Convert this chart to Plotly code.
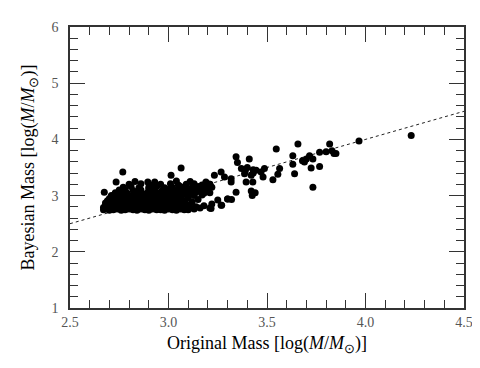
import plotly.graph_objects as go

# dense cluster (original mass, bayesian mass), read row by row
blob_x = [2.67, 2.69, 2.70, 2.72, 2.74, 2.76, 2.78, 2.80, 2.82, 2.84, 2.86, 2.88, 2.90, 2.92, 2.94, 2.96, 2.98, 3.00, 3.02, 3.04, 3.06, 3.08, 3.10, 3.13,
          2.67, 2.69, 2.71, 2.73, 2.75, 2.77, 2.79, 2.81, 2.83, 2.85, 2.87, 2.89, 2.91, 2.93, 2.95, 2.97, 2.99, 3.01, 3.03, 3.05, 3.08, 3.11, 3.16,
          2.68, 2.70, 2.72, 2.74, 2.76, 2.78, 2.80, 2.82, 2.84, 2.86, 2.88, 2.90, 2.92, 2.94, 2.96, 2.98, 3.00, 3.02, 3.04, 3.07, 3.10, 3.14,
          2.68, 2.71, 2.73, 2.75, 2.77, 2.79, 2.81, 2.83, 2.85, 2.87, 2.89, 2.91, 2.93, 2.95, 2.97, 2.99, 3.01, 3.03, 3.06, 3.09,
          2.69, 2.72, 2.74, 2.76, 2.78, 2.80, 2.82, 2.84, 2.86, 2.88, 2.90, 2.92, 2.94, 2.96, 2.98, 3.00, 3.02, 3.05, 3.08, 3.12,
          2.70, 2.73, 2.75, 2.78, 2.80, 2.82, 2.84, 2.87, 2.89, 2.91, 2.93, 2.96, 2.98, 3.01, 3.03, 3.06, 3.10, 3.15,
          2.71, 2.74, 2.77, 2.79, 2.82, 2.85, 2.88, 2.90, 2.93, 2.95, 2.98, 3.01, 3.04, 3.07, 3.10, 3.13, 3.17,
          2.73, 2.76, 2.79, 2.83, 2.86, 2.89, 2.92, 2.96, 2.99, 3.02, 3.05, 3.08, 3.11, 3.14, 3.18, 3.21,
          2.75, 2.78, 2.82, 2.86, 2.90, 2.93, 2.97, 3.00, 3.04, 3.07, 3.10, 3.13, 3.16, 3.20,
          2.77, 2.81, 2.85, 2.90, 2.94, 2.98, 3.02, 3.06, 3.09, 3.12, 3.15, 3.19, 3.22,
          2.80, 2.86, 2.92, 2.96, 3.01, 3.05, 3.09, 3.13, 3.17, 3.21,
          2.83, 2.93, 3.04, 3.11, 3.19]
blob_y = [2.75, 2.76, 2.74, 2.75, 2.76, 2.74, 2.75, 2.76, 2.75, 2.74, 2.76, 2.75, 2.74, 2.76, 2.75, 2.75, 2.74, 2.76, 2.75, 2.74, 2.76, 2.75, 2.75, 2.76,
          2.79, 2.80, 2.78, 2.79, 2.80, 2.79, 2.78, 2.80, 2.79, 2.78, 2.80, 2.79, 2.78, 2.80, 2.79, 2.79, 2.78, 2.80, 2.79, 2.78, 2.80, 2.79, 2.78,
          2.83, 2.84, 2.82, 2.83, 2.84, 2.83, 2.82, 2.84, 2.83, 2.82, 2.84, 2.83, 2.82, 2.84, 2.83, 2.82, 2.84, 2.83, 2.82, 2.84, 2.83, 2.80,
          2.87, 2.88, 2.86, 2.87, 2.88, 2.86, 2.87, 2.88, 2.86, 2.87, 2.88, 2.86, 2.87, 2.88, 2.86, 2.87, 2.88, 2.86, 2.87, 2.85,
          2.91, 2.92, 2.90, 2.91, 2.92, 2.90, 2.91, 2.92, 2.90, 2.91, 2.92, 2.90, 2.91, 2.92, 2.90, 2.91, 2.92, 2.90, 2.91, 2.89,
          2.95, 2.96, 2.94, 2.95, 2.96, 2.94, 2.95, 2.96, 2.94, 2.95, 2.96, 2.94, 2.95, 2.96, 2.94, 2.95, 2.96, 2.93,
          3.00, 3.01, 2.99, 3.00, 3.01, 2.99, 3.00, 3.01, 2.99, 3.00, 3.01, 2.99, 3.00, 3.01, 2.99, 3.00, 3.01,
          3.05, 3.06, 3.04, 3.05, 3.06, 3.04, 3.05, 3.06, 3.04, 3.05, 3.06, 3.04, 3.05, 3.06, 3.04, 3.05,
          3.10, 3.11, 3.09, 3.10, 3.11, 3.09, 3.10, 3.11, 3.09, 3.10, 3.11, 3.09, 3.10, 3.11,
          3.15, 3.16, 3.14, 3.15, 3.16, 3.14, 3.15, 3.16, 3.14, 3.15, 3.16, 3.14, 3.15,
          3.20, 3.21, 3.19, 3.20, 3.21, 3.19, 3.20, 3.21, 3.19, 3.20,
          3.25, 3.24, 3.26, 3.25, 3.24]

# scattered points outside the cluster
tail_x = [2.674, 2.734, 2.768, 2.895, 3.013, 3.064, 3.18, 3.21, 3.22, 3.25, 3.27, 3.30, 3.32,
          3.216, 3.200, 3.233, 3.21, 3.19, 3.267, 3.284, 3.318, 3.267, 3.30, 3.318,
          3.343, 3.343, 3.35, 3.37, 3.386, 3.41, 3.39, 3.40, 3.43, 3.445, 3.42, 3.425,
          3.394, 3.428, 3.42, 3.43, 3.44, 3.47, 3.487, 3.48, 3.53, 3.547, 3.555, 3.564,
          3.631, 3.631, 3.64, 3.657, 3.68, 3.69, 3.70, 3.716, 3.724, 3.733, 3.733, 3.767,
          3.767, 3.80, 3.818, 3.83, 3.84, 3.85, 3.967, 4.232]
tail_y = [3.06, 3.24, 3.42, 3.24, 3.36, 3.49, 2.82, 2.78, 2.85, 2.92, 2.83, 2.94, 2.93,
          2.77, 3.10, 3.36, 3.20, 3.22, 2.83, 3.33, 3.24, 3.42, 2.94, 3.30,
          3.69, 3.06, 3.59, 3.48, 3.39, 3.65, 3.44, 3.50, 3.46, 3.45, 3.08, 3.00,
          3.24, 3.24, 3.36, 3.40, 3.05, 3.42, 3.48, 3.33, 3.28, 3.83, 3.38, 3.48,
          3.71, 3.56, 3.39, 3.92, 3.62, 3.60, 3.65, 3.71, 3.49, 3.65, 3.15, 3.77,
          3.52, 3.78, 3.92, 3.80, 3.75, 3.75, 3.97, 4.07]

# one-to-one reference line
line_x = [2.5, 4.5]
line_y = [2.5, 4.5]

fig = go.Figure()
fig.add_trace(go.Scatter(x=line_x, y=line_y, mode="lines",
                         line=dict(color="#222", width=1, dash="dot"),
                         hoverinfo="skip"))
fig.add_trace(go.Scatter(x=blob_x + tail_x, y=blob_y + tail_y, mode="markers",
                         marker=dict(color="black", size=7, line=dict(width=0))))

ax = dict(showgrid=False, zeroline=False, showline=True, linecolor="#333",
          linewidth=1.5, mirror="ticks", ticks="inside", tickcolor="#333",
          ticklen=15, tickwidth=1.2,
          tickfont=dict(family="Liberation Serif", size=14, color="#555"))

fig.update_layout(
    width=480, height=368,
    margin=dict(l=62, r=24, t=17, b=68),
    paper_bgcolor="white", plot_bgcolor="white",
    showlegend=False,
    font=dict(family="Liberation Serif", color="black"),
    xaxis=dict(ax, range=[2.5, 4.5], tickvals=[2.5, 3.0, 3.5, 4.0, 4.5],
               ticktext=["2.5", "3.0", "3.5", "4.0", "4.5"],
               minor=dict(dtick=0.1, ticks="inside", ticklen=8, tickcolor="#333"),
               title=dict(text="Original Mass [log(<i>M</i>/<i>M</i><sub>⊙</sub>)]",
                          font=dict(size=18), standoff=8)),
    yaxis=dict(ax, range=[1, 6], dtick=1, ticklabelstandoff=7,
               minor=dict(dtick=0.2, ticks="inside", ticklen=8, tickcolor="#333"),
               title=dict(text="Bayesian Mass [log(<i>M</i>/<i>M</i><sub>⊙</sub>)]",
                          font=dict(size=18), standoff=12)),
)

fig.write_html("out.html")
